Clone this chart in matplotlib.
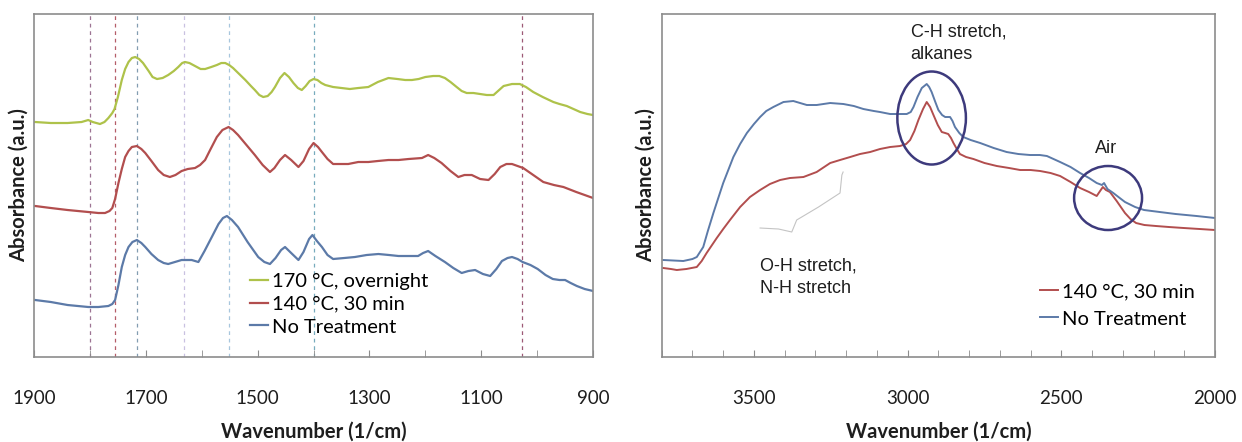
import matplotlib
matplotlib.use("Agg")
import matplotlib.pyplot as plt
from matplotlib.patches import Ellipse
import numpy as np

plt.rcParams['font.family'] = ['Lato', 'DejaVu Sans']

# ---- fingerprint region (left) ----
wn_lo_170 = [1898, 1870, 1840, 1815, 1803, 1795, 1782, 1774, 1767, 1760, 1756, 1750, 1743,
             1737, 1731, 1725, 1719, 1712, 1705, 1695, 1688, 1680, 1670, 1660, 1650, 1642,
             1635, 1630, 1622, 1612, 1602, 1594, 1583, 1573, 1565, 1558, 1551, 1544, 1533,
             1522, 1512, 1505, 1497, 1490, 1482, 1475, 1469, 1460, 1452, 1444, 1436, 1428,
             1421, 1414, 1407, 1400, 1393, 1386, 1379, 1365, 1350, 1335, 1320, 1302, 1285,
             1266, 1250, 1236, 1224, 1212, 1200, 1186, 1175, 1165, 1155, 1144, 1135, 1126,
             1114, 1102, 1090, 1078, 1070, 1060, 1045, 1031, 1020, 1007, 990, 971, 960, 947,
             935, 923, 910, 900]
abs_lo_170 = [2.35, 2.34, 2.34, 2.35, 2.37, 2.35, 2.33, 2.35, 2.39, 2.44, 2.48, 2.60, 2.77,
              2.88, 2.95, 2.99, 3.00, 2.98, 2.94, 2.86, 2.80, 2.78, 2.79, 2.82, 2.86, 2.90,
              2.94, 2.95, 2.94, 2.91, 2.88, 2.88, 2.90, 2.92, 2.94, 2.94, 2.92, 2.89, 2.83,
              2.77, 2.71, 2.67, 2.62, 2.60, 2.61, 2.65, 2.70, 2.79, 2.84, 2.80, 2.74, 2.69,
              2.67, 2.71, 2.76, 2.78, 2.77, 2.74, 2.72, 2.70, 2.69, 2.68, 2.69, 2.70, 2.75,
              2.79, 2.78, 2.77, 2.77, 2.78, 2.80, 2.81, 2.81, 2.79, 2.75, 2.70, 2.66, 2.64,
              2.64, 2.63, 2.62, 2.62, 2.66, 2.71, 2.73, 2.73, 2.70, 2.65, 2.60, 2.55, 2.53, 2.51,
              2.48, 2.45, 2.43, 2.42]

wn_lo_140 = [1898, 1870, 1840, 1803, 1785, 1773, 1765, 1760, 1755, 1749, 1743, 1737, 1731,
             1725, 1716, 1708, 1701, 1690, 1678, 1668, 1657, 1647, 1636, 1625, 1612, 1603,
             1594, 1585, 1573, 1563, 1552, 1544, 1535, 1520, 1505, 1491, 1478, 1470, 1460,
             1451, 1440, 1427, 1418, 1408, 1400, 1392, 1385, 1375, 1365, 1350, 1338, 1320,
             1302, 1285, 1266, 1248, 1230, 1206, 1195, 1184, 1171, 1155, 1141, 1130, 1117,
             1102, 1087, 1076, 1066, 1055, 1045, 1035, 1025, 1007, 989, 970, 953, 930, 915, 900]
abs_lo_140 = [1.51, 1.49, 1.47, 1.45, 1.44, 1.44, 1.46, 1.49, 1.58, 1.74, 1.88, 2.00, 2.06,
              2.10, 2.11, 2.08, 2.04, 1.96, 1.87, 1.82, 1.80, 1.82, 1.86, 1.88, 1.89, 1.92,
              1.97, 2.07, 2.20, 2.27, 2.30, 2.27, 2.22, 2.12, 2.02, 1.92, 1.85, 1.89, 1.97,
              2.02, 1.97, 1.90, 1.96, 2.08, 2.14, 2.10, 2.05, 1.98, 1.93, 1.93, 1.93, 1.95,
              1.95, 1.96, 1.97, 1.97, 1.98, 1.99, 2.02, 1.99, 1.94, 1.86, 1.80, 1.82, 1.82,
              1.78, 1.77, 1.83, 1.90, 1.93, 1.93, 1.91, 1.89, 1.82, 1.75, 1.72, 1.70, 1.65,
              1.62, 1.59]

wn_lo_none = [1898, 1870, 1840, 1803, 1785, 1767, 1760, 1755, 1749, 1743, 1737, 1731, 1724,
              1716, 1708, 1701, 1690, 1678, 1668, 1660, 1648, 1636, 1627, 1618, 1606, 1595,
              1582, 1570, 1562, 1555, 1546, 1535, 1518, 1499, 1488, 1478, 1468, 1458, 1451,
              1440, 1427, 1418, 1408, 1402, 1394, 1385, 1375, 1365, 1345, 1326, 1305, 1284,
              1265, 1248, 1230, 1213, 1204, 1195, 1182, 1165, 1150, 1135, 1123, 1111, 1097,
              1084, 1073, 1063, 1053, 1045, 1035, 1026, 1012, 999, 985, 972, 960, 950, 940,
              929, 915, 900]
abs_lo_none = [0.57, 0.55, 0.52, 0.50, 0.50, 0.51, 0.53, 0.57, 0.72, 0.90, 1.02, 1.10, 1.15,
               1.17, 1.14, 1.10, 1.03, 0.97, 0.94, 0.93, 0.95, 0.97, 0.97, 0.97, 0.95, 1.06,
               1.20, 1.33, 1.39, 1.41, 1.37, 1.30, 1.15, 1.00, 0.95, 0.93, 0.99, 1.07, 1.10,
               1.04, 0.97, 1.05, 1.18, 1.22, 1.16, 1.10, 1.02, 0.98, 0.99, 1.00, 1.02, 1.03,
               1.02, 1.01, 1.01, 1.01, 1.04, 1.06, 1.01, 0.95, 0.89, 0.84, 0.86, 0.87, 0.83,
               0.81, 0.88, 0.96, 0.99, 1.00, 0.98, 0.95, 0.92, 0.88, 0.82, 0.78, 0.77, 0.77,
               0.74, 0.71, 0.68, 0.66]

# reference band positions (1/cm) and their marker colours
band_wn = [1800, 1755, 1715, 1632, 1551, 1400, 1027]
band_colors = ['#8c5c80', '#a8404e', '#6d8ca4', '#c0b6dc', '#98bcd8', '#5f9cb2', '#8c3c5e']

# ---- high wavenumber region (right) ----
wn_hi_140 = [3795, 3770, 3751, 3720, 3686, 3670, 3654, 3621, 3600, 3578, 3545, 3513, 3480,
             3448, 3415, 3383, 3339, 3296, 3252, 3220, 3187, 3155, 3122, 3090, 3057, 3025,
             3005, 2992, 2978, 2965, 2950, 2938, 2927, 2916, 2902, 2889, 2878, 2868, 2859,
             2851, 2840, 2830, 2810, 2786, 2750, 2710, 2670, 2634, 2600, 2569, 2535, 2504,
             2470, 2439, 2410, 2385, 2374, 2365, 2355, 2342, 2320, 2293, 2275, 2257, 2230,
             2192, 2150, 2102, 2050, 2000]
abs_hi_140 = [0.89, 0.88, 0.87, 0.88, 0.90, 0.96, 1.04, 1.19, 1.28, 1.37, 1.50, 1.60, 1.67,
              1.73, 1.77, 1.79, 1.80, 1.85, 1.94, 1.97, 2.00, 2.03, 2.05, 2.08, 2.10, 2.11,
              2.13, 2.17, 2.26, 2.37, 2.48, 2.55, 2.50, 2.42, 2.32, 2.25, 2.24, 2.23, 2.19,
              2.14, 2.08, 2.03, 2.00, 1.98, 1.94, 1.91, 1.89, 1.87, 1.87, 1.86, 1.84, 1.81,
              1.75, 1.69, 1.65, 1.61, 1.66, 1.70, 1.67, 1.65, 1.56, 1.44, 1.38, 1.34, 1.32,
              1.31, 1.30, 1.29, 1.28, 1.27]

wn_hi_none = [3795, 3730, 3700, 3686, 3665, 3650, 3632, 3615, 3600, 3567, 3545, 3523, 3500,
              3480, 3460, 3437, 3404, 3372, 3350, 3328, 3296, 3252, 3209, 3175, 3144, 3110,
              3090, 3057, 3030, 3003, 2990, 2981, 2968, 2954, 2938, 2930, 2922, 2910, 2900,
              2888, 2878, 2862, 2854, 2846, 2832, 2819, 2795, 2764, 2720, 2678, 2640, 2602,
              2570, 2547, 2504, 2470, 2439, 2410, 2385, 2368, 2361, 2350, 2331, 2310, 2293,
              2260, 2231, 2180, 2128, 2060, 2000]
abs_hi_none = [0.97, 0.96, 0.98, 1.00, 1.10, 1.26, 1.44, 1.60, 1.74, 2.00, 2.13, 2.24, 2.33,
               2.40, 2.46, 2.50, 2.55, 2.56, 2.54, 2.52, 2.52, 2.54, 2.53, 2.51, 2.48, 2.46,
               2.45, 2.43, 2.43, 2.43, 2.45, 2.50, 2.60, 2.69, 2.73, 2.70, 2.65, 2.55, 2.47,
               2.42, 2.40, 2.40, 2.36, 2.30, 2.24, 2.20, 2.17, 2.14, 2.09, 2.05, 2.03, 2.02,
               2.02, 2.01, 1.95, 1.90, 1.84, 1.79, 1.74, 1.72, 1.74, 1.68, 1.64, 1.59, 1.55,
               1.50, 1.47, 1.45, 1.43, 1.41, 1.39]

# circled features: (centre wn, centre abs, width in 1/cm, height in abs)
ch_circle = (2922, 2.39, 223, 0.93)
air_circle = (2348, 1.59, 221, 0.64)

# hand drawn bracket under the O-H / N-H shoulder
brace_wn = [3210, 3214, 3220, 3290, 3361, 3377, 3420, 3480]
brace_abs = [1.85, 1.82, 1.64, 1.50, 1.37, 1.25, 1.28, 1.29]

c_170 = '#aec24a'
c_140 = '#b24e4e'
c_none = '#5c7aa8'
frame = '#8c8c8c'
circle_c = '#3d3a7c'

fig = plt.figure(figsize=(12.42, 4.42), dpi=100)
ax1 = fig.add_axes([0.0274, 0.1923, 0.4501, 0.776])
ax2 = fig.add_axes([0.5328, 0.1923, 0.4455, 0.776])

for x, c in zip(band_wn, band_colors):
    ax1.axvline(x, color=c, lw=0.9, ls=(0, (3, 3)), alpha=0.85, zorder=1)

ax1.plot(wn_lo_170, abs_lo_170, color=c_170, lw=1.6, label='170 °C, overnight', zorder=2)
ax1.plot(wn_lo_140, abs_lo_140, color=c_140, lw=1.6, label='140 °C, 30 min', zorder=2)
ax1.plot(wn_lo_none, abs_lo_none, color=c_none, lw=1.6, label='No Treatment', zorder=2)

ax2.plot(wn_hi_140, abs_hi_140, color=c_140, lw=1.4, label='140 °C, 30 min')
ax2.plot(wn_hi_none, abs_hi_none, color=c_none, lw=1.4, label='No Treatment')

for cx, cy, w, h in (ch_circle, air_circle):
    ax2.add_patch(Ellipse((cx, cy), w, h, fill=False, ec=circle_c, lw=1.8, zorder=3))

ax2.plot(brace_wn, brace_abs, color='#c4c4c4', lw=0.8)

ann = dict(family=['Liberation Sans', 'DejaVu Sans'], fontsize=13, color='#1e1e1e',
           va='top', ha='left', linespacing=1.45)
ax2.text(2990, 3.34, 'C-H stretch,\nalkanes', **ann)
ax2.text(2392, 2.17, 'Air', **ann)
ax2.text(3480, 1.00, 'O-H stretch,\nN-H stretch', **ann)

ax1.set_xlim(1900, 900)
ax1.set_xticks([1900, 1700, 1500, 1300, 1100, 900])
ax1.set_xticks(np.arange(900, 1901, 100), minor=True)
ax2.set_xlim(3800, 2000)
ax2.set_xticks([3500, 3000, 2500, 2000])
ax2.set_xticks(np.arange(2000, 3801, 100), minor=True)

for ax in (ax1, ax2):
    ax.set_ylim(0, 3.43)
    ax.set_yticks([])
    for s in ax.spines.values():
        s.set_color(frame)
        s.set_linewidth(1.2)
    ax.tick_params(axis='x', which='both', direction='in', length=5, color=frame,
                   labelsize=13.5, pad=24, labelcolor='#1e1e1e')
    ax.set_xlabel('Wavenumber (1/cm)', fontsize=14.5, fontweight='bold', labelpad=10,
                  color='#1e1e1e')
    ax.set_ylabel('Absorbance (a.u.)', fontsize=14.5, fontweight='bold', labelpad=4,
                  color='#1e1e1e')

ax1.legend(loc='upper left', bbox_to_anchor=(0.386, 0.245), frameon=False, fontsize=14.5,
           handlelength=0.9, handletextpad=0.2, labelspacing=0.28, borderpad=0,
           borderaxespad=0)
ax2.legend(loc='upper left', bbox_to_anchor=(0.684, 0.215), frameon=False, fontsize=14.5,
           handlelength=0.9, handletextpad=0.2, labelspacing=0.5, borderpad=0,
           borderaxespad=0)

fig.savefig('out.png', dpi=100)
